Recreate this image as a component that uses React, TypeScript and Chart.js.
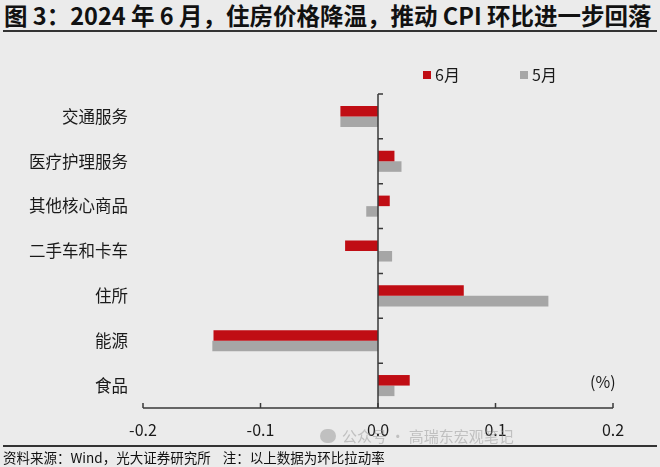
import React, { useEffect, useRef } from "react";
import { Chart, registerables } from "chart.js";
Chart.register(...registerables);

const categories = ["交通服务", "医疗护理服务", "其他核心商品", "二手车和卡车", "住所", "能源", "食品"];
const june = [-0.032, 0.014, 0.010, -0.028, 0.073, -0.140, 0.027];
const may = [-0.032, 0.020, -0.010, 0.012, 0.145, -0.141, 0.014];
const seriesNames = ["6月", "5月"];
const seriesColors = ["#c00d14", "#a6a6a6"];
const xTicks = [-0.2, -0.1, 0, 0.1, 0.2];

const FONT = "'Noto Sans CJK SC', 'Noto Sans', sans-serif";

const customPlugin = {
  id: "customAxes",
  afterDatasetsDraw(chart: any) {
    const { ctx, chartArea: a, scales } = chart;
    const x = scales.x;
    const y = scales.y;
    const x0 = x.getPixelForValue(0);
    const step = y.getPixelForValue(1) - y.getPixelForValue(0);
    ctx.save();
    ctx.strokeStyle = "#3a3a3a";
    ctx.lineWidth = 1.5;
    ctx.beginPath();
    ctx.moveTo(x0, a.top);
    ctx.lineTo(x0, a.bottom);
    for (let i = 0; i < categories.length; i++) {
      const yb = y.getPixelForValue(i) - step / 2;
      ctx.moveTo(x0, yb);
      ctx.lineTo(x0 + 5, yb);
    }
    ctx.stroke();
    ctx.beginPath();
    ctx.moveTo(a.left, a.bottom);
    ctx.lineTo(a.right, a.bottom);
    xTicks.forEach((v) => {
      const px = x.getPixelForValue(v);
      ctx.moveTo(px, a.bottom);
      ctx.lineTo(px, a.bottom - 5);
    });
    ctx.stroke();

    // category labels
    ctx.font = "16.5px " + FONT;
    ctx.textBaseline = "middle";
    ctx.textAlign = "right";
    ctx.fillStyle = "#1a1a1a";
    chart.data.labels.forEach((lab: string, i: number) => {
      ctx.fillText(lab, a.left - 15, y.getPixelForValue(i));
    });

    // legend
    ctx.font = "16px " + FONT;
    ctx.textAlign = "left";
    const legendX = [423, 520];
    chart.data.datasets.forEach((ds: any, i: number) => {
      ctx.fillStyle = ds.backgroundColor;
      ctx.fillRect(legendX[i], 71, 8, 8);
      ctx.fillStyle = "#1a1a1a";
      ctx.fillText(ds.label, legendX[i] + 12, 75);
    });
    // unit
    ctx.fillStyle = "#1a1a1a";
    ctx.fillText("(%)", 590, 382);
    ctx.restore();
  },
};

export default function App() {
  const ref = useRef<HTMLCanvasElement | null>(null);
  useEffect(() => {
    if (!ref.current) return;
    Chart.defaults.font.family = FONT;
    const chart = new Chart(ref.current, {
      type: "bar",
      data: {
        labels: categories,
        datasets: [
          { label: seriesNames[0], data: june, backgroundColor: seriesColors[0], categoryPercentage: 0.47, barPercentage: 1.0 },
          { label: seriesNames[1], data: may, backgroundColor: seriesColors[1], categoryPercentage: 0.47, barPercentage: 1.0 },
        ],
      },
      options: {
        indexAxis: "y",
        responsive: false,
        animation: false,
        layout: { padding: { top: 94, right: 47, left: 0, bottom: 0 } },
        plugins: { legend: { display: false }, tooltip: { enabled: false } },
        scales: {
          x: {
            min: -0.2,
            max: 0.2,
            grid: { display: false, drawTicks: false },
            border: { display: false },
            ticks: {
              stepSize: 0.1,
              padding: 12,
              color: "#1a1a1a",
              font: { size: 16, family: FONT },
              callback: (v: any) => (Math.abs(Number(v)) < 1e-9 ? "0.0" : Number(v).toFixed(1)),
            },
            afterFit: (s: any) => { s.height = 59; },
          },
          y: {
            grid: { display: false, drawTicks: false },
            border: { display: false },
            ticks: { display: false },
            afterFit: (s: any) => { s.width = 143; },
          },
        },
      },
      plugins: [customPlugin],
    } as any);
    return () => chart.destroy();
  }, []);

  return (
    <div style={{ position: "absolute", left: 0, top: 0, width: 660, height: 467, background: "#ebebeb", overflow: "hidden", fontFamily: FONT }}>
      <div style={{ position: "absolute", left: 4, top: 0, fontSize: 23.5, fontWeight: 700, lineHeight: "30px", color: "#111", whiteSpace: "nowrap" }}>
        图 3：2024 年 6 月，住房价格降温，推动 CPI 环比进一步回落
      </div>
      <div style={{ position: "absolute", left: 3, top: 30, width: 654, height: 2, background: "#333" }} />
      <canvas ref={ref} width={660} height={467} style={{ position: "absolute", left: 0, top: 0 }} />
      <div style={{ position: "absolute", left: 320, top: 426, fontSize: 15, lineHeight: "20px", color: "rgba(150,150,150,0.5)", whiteSpace: "nowrap" }}>
        <span style={{ display: "inline-block", width: 16, height: 14, borderRadius: 8, background: "rgba(150,150,150,0.5)", marginRight: 6, verticalAlign: "-1px" }} />
        公众号 · 高瑞东宏观笔记
      </div>
      <div style={{ position: "absolute", left: 3, top: 445, width: 654, height: 2, background: "#333" }} />
      <div style={{ position: "absolute", left: 3, top: 448, fontSize: 13.5, lineHeight: "18px", color: "#111", whiteSpace: "nowrap" }}>
        资料来源：Wind，光大证券研究所&nbsp;&nbsp;&nbsp;&nbsp;注：以上数据为环比拉动率
      </div>
    </div>
  );
}
